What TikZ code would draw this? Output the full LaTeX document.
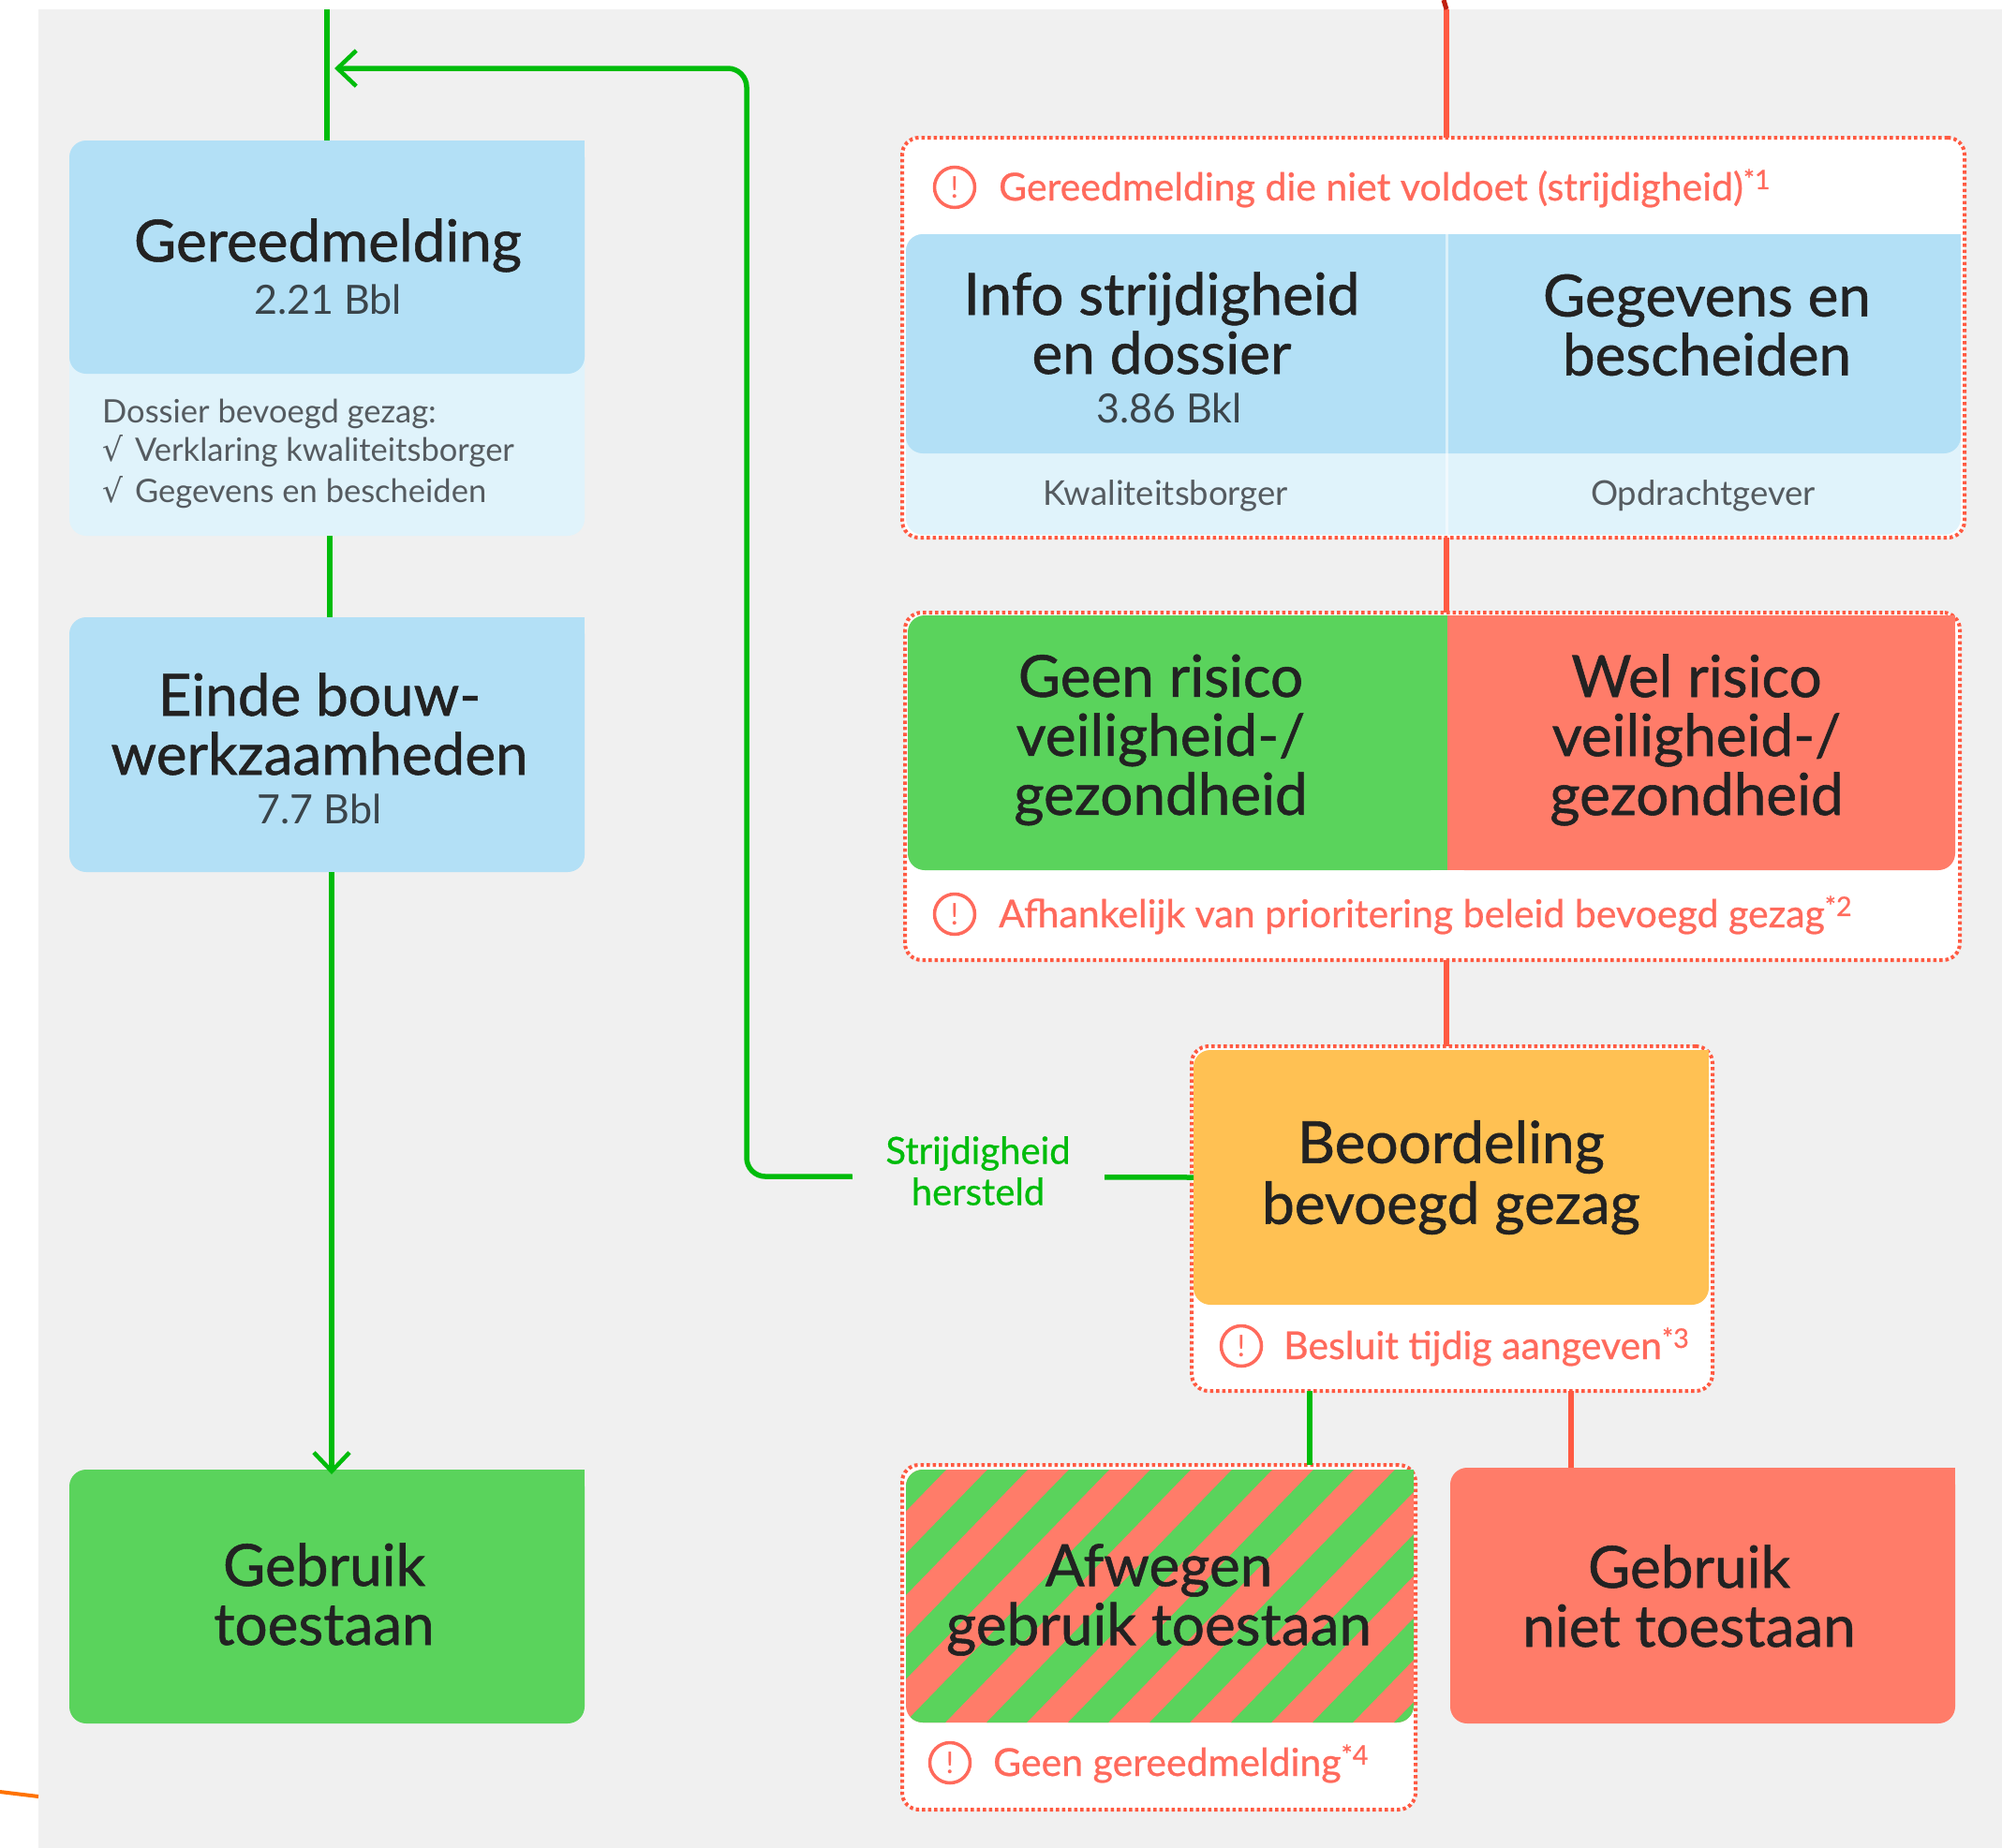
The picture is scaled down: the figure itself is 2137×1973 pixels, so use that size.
\documentclass[tikz,border=0pt]{standalone}
\usepackage{fontspec}
\setmainfont{Lato}
\newfontfamily\hdfont[FakeBold=0.9]{Lato}
\newfontfamily\warnfont[FakeBold=0.6]{Lato}
\newfontfamily\symfont{DejaVu Sans}
\usetikzlibrary{arrows.meta}
\definecolor{pagegray}{HTML}{F0F0F0}
\definecolor{cardblue}{HTML}{B3E0F6}
\definecolor{paleblue}{HTML}{E0F3FB}
\definecolor{cardgreen}{HTML}{5AD35C}
\definecolor{cardred}{HTML}{FF7C69}
\definecolor{cardorange}{HTML}{FFC153}
\definecolor{linegreen}{HTML}{00BC0B}
\definecolor{linered}{HTML}{FF5A42}
\definecolor{darkred}{HTML}{C0200F}
\definecolor{warnred}{HTML}{FF6A5C}
\definecolor{ink}{HTML}{222222}
\definecolor{subink}{HTML}{3A444A}
\definecolor{smallink}{HTML}{555B60}
\tikzset{
  card/.style={fill=#1,draw=none,rounded corners=18pt,inner sep=0pt,outer sep=0pt},
  frame/.style={fill=white,draw=linered,line width=4pt,dash pattern=on 3.5pt off 3pt,rounded corners=18pt,inner sep=0pt,outer sep=0pt},
  head/.style={font=\hdfont\fontsize{62}{63}\selectfont,align=center,text=ink,inner sep=0pt},
  sub/.style={font=\fontsize{43}{46}\selectfont,align=center,text=subink,inner sep=0pt},
  small/.style={font=\fontsize{34.5}{38}\selectfont,text=smallink,inner sep=0pt},
  role/.style={font=\fontsize{36.5}{40}\selectfont,text=smallink,inner sep=0pt},
  warn/.style={font=\warnfont\fontsize{41}{44}\selectfont,text=warnred,anchor=base west,inner sep=0pt},
  warnicon/.style={circle,draw=warnred,line width=3.5pt,minimum size=43pt,inner sep=0pt,text=warnred,font=\fontsize{32}{32}\selectfont},
  gline/.style={draw=linegreen,line width=5.5pt},
  rline/.style={draw=linered,line width=5.5pt},
  arrowed/.style={-{Straight Barb[length=20pt,width=38pt,line width=4.5pt]}},
  legend/.style={font=\warnfont\fontsize{40}{44}\selectfont,align=center,text=linegreen,fill=pagegray,inner sep=0pt,minimum width=269pt,minimum height=100pt},
}
\newcommand{\bx}[6]{\node[#6,minimum width={(#4-#2)*1pt},minimum height={(#5-#3)*1pt}] (#1) at ({(#2+#4)/2},{(#3+#5)/2}) {};}
\newcommand{\sq}[2]{\fill[#2] (#1.north east) rectangle ++(-24,24);}
\newcommand{\supmark}[1]{\raisebox{3pt}{\textsuperscript{#1}}}
\begin{document}
\begin{tikzpicture}[x=1pt,y=-1pt]
\useasboundingbox (0,0) rectangle (2137,1973);
\fill[white] (0,0) rectangle (2137,1973);
\fill[pagegray] (41,10) rectangle (2137,1973);

% free ends
\coordinate (gtop) at (349,10);
\coordinate (rtop) at (1544,10);
\coordinate (rtop2) at (1541,0);
\coordinate (merge) at (357,73);
\coordinate (bendtop) at (797,73);
\coordinate (bendlow) at (797,1256);
\coordinate (orangeA) at (0,1913);
\coordinate (orangeB) at (41,1918);

% left column
\bx{gmpale}{74}{150}{624}{572}{card=paleblue}
\bx{gm}{74}{150}{624}{399}{card=cardblue}\sq{gm}{cardblue}
\bx{einde}{74}{659}{624}{931}{card=cardblue}\sq{einde}{cardblue}
\bx{toestaan}{74}{1569}{624}{1840}{card=cardgreen}\sq{toestaan}{cardgreen}

% right column
\bx{f1}{963}{147}{2097}{574}{frame}
\bx{palepair}{967}{250}{2093}{571}{card=paleblue}
\bx{bluepair}{967}{250}{2093}{484}{card=cardblue}
\fill[cardblue] (bluepair.north east) rectangle ++(-24,24);
\draw[white,opacity=.55,line width=3pt] (bluepair.north -| rtop) -- (palepair.south -| rtop);

\bx{f2}{966}{654}{2092}{1025}{frame}
\bx{geen}{969}{657}{1545}{929}{card=cardgreen}
\fill[cardgreen] (geen.north east) rectangle ++(-24,24);
\fill[cardgreen] (geen.south east) rectangle ++(-24,-24);
\bx{wel}{1545}{657}{2087}{929}{card=cardred}
\fill[cardred] (wel.north west) rectangle ++(24,24);
\fill[cardred] (wel.south west) rectangle ++(24,-24);
\fill[cardred] (wel.north east) rectangle ++(-24,24);

\bx{f3}{1272}{1117}{1828}{1485}{frame}
\bx{beo}{1274}{1121}{1824}{1393}{card=cardorange}
\fill[cardorange] (beo.north east) rectangle ++(-24,24);

\bx{f4}{963}{1564}{1511}{1932}{frame}
\bx{afw}{967}{1569}{1509}{1839}{card=cardred}
\fill[cardred] (afw.north east) rectangle ++(-24,24);
\begin{scope}
\clip (1509,1569) [rounded corners=18pt] -- (967,1569) -- (967,1839) -- (1509,1839) [sharp corners] -- cycle;
\foreach \k in {-4,...,6}{
  \fill[cardgreen] ({966+87*\k},1839) -- ({1009+87*\k},1839) -- ({1271+87*\k},1569) -- ({1228+87*\k},1569) -- cycle;
}
\end{scope}
\bx{niet}{1548}{1567}{2087}{1840}{card=cardred}\sq{niet}{cardred}

% connectors
\draw[gline] (gtop) -- (gm.north);
\draw[gline] ([xshift=3pt]gmpale.south) -- ([xshift=3pt]einde.north);
\draw[gline,arrowed] ([xshift=5pt]einde.south) -- ([xshift=5pt,yshift=-5pt]toestaan.north);
\draw[gline,rounded corners=20pt,arrowed] (beo.west) -- (bendlow) -- (bendtop) -- (merge);
\draw[rline] (rtop) -- (f1.north -| rtop);
\draw[darkred,line width=5pt] (rtop2) -- (rtop);
\draw[rline] (f1.south -| rtop) -- (f2.north -| rtop);
\draw[rline] (f2.south -| rtop) -- (f3.north -| rtop);
\draw[gline] (1398,1485) -- (1398,1564);
\draw[rline] (1677,1485) -- (1677,1567);
\draw[orange!90!red,line width=4pt] (orangeA) -- (orangeB);

% texts
\node[head] (t1) at (350,262) {Gereedmelding};
\node[sub] (t1s) at (350,320) {2.21 Bbl};
\node[small,anchor=base west] (t1a) at (109,451) {Dossier bevoegd gezag:};
\node[small,anchor=base west] (t1b) at (109,492) {{\symfont√}\hspace{13pt}Verklaring kwaliteitsborger};
\node[small,anchor=base west] (t1c) at (109,536) {{\symfont√}\hspace{13pt}Gegevens en bescheiden};
\node[head] (t2) at (341,773) {Einde bouw-\\werkzaamheden};
\node[sub] (t2s) at (341,864) {7.7 Bbl};
\node[head] (t3) at (346,1702) {Gebruik\\toestaan};

\node[warnicon] (i1) at (1019,200) {!};
\node[warn] (w1) at (1066,214) {Gereedmelding die niet voldoet (strijdigheid)\supmark{*1}};
\node[head] (t4) at (1240,345) {Info strijdigheid\\en dossier};
\node[sub] (t4s) at (1248,436) {3.86 Bkl};
\node[head] (t5) at (1822,347) {Gegevens en\\bescheiden};
\node[role] (t4b) at (1244,529) {Kwaliteitsborger};
\node[role] (t5b) at (1818,529) {Opdrachtgever};

\node[head] (t6) at (1239,790) {Geen risico\\veiligheid-/\\gezondheid};
\node[head] (t7) at (1811,790) {Wel risico\\veiligheid-/\\gezondheid};
\node[warnicon] (i2) at (1019,976) {!};
\node[warn] (w2) at (1066,990) {Afhankelijk van prioritering beleid bevoegd gezag\supmark{*2}};

\node[head,font=\hdfont\fontsize{62}{65}\selectfont] (t8) at (1549,1257) {Beoordeling\\bevoegd gezag};
\node[warnicon] (i3) at (1325,1437) {!};
\node[warn] (w3) at (1370,1451) {Besluit tijdig aangeven\supmark{*3}};
\node[legend] (herst) at (1044,1250) {Strijdigheid\\hersteld};

\node[head] (t9) at (1237,1708) {Afwegen\\gebruik toestaan};
\node[head] (t10) at (1803,1704) {Gebruik\\niet toestaan};
\node[warnicon] (i4) at (1014,1882) {!};
\node[warn] (w4) at (1060,1896) {Geen gereedmelding\supmark{*4}};
\end{tikzpicture}
\end{document}
